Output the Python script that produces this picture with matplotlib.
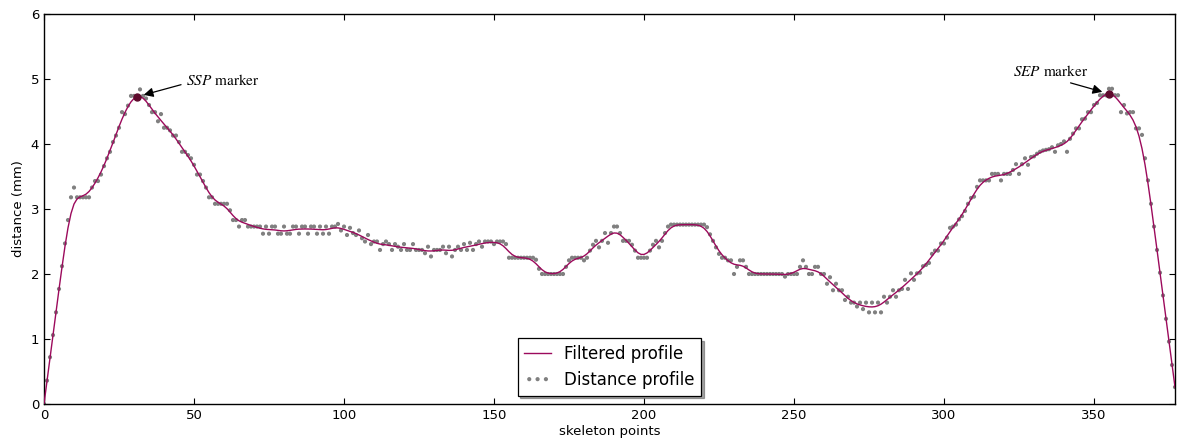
import numpy as np
import matplotlib
matplotlib.use("Agg")
import matplotlib.pyplot as plt

# ---- data ----
distance_profile = [
    0.00, 0.36, 0.72, 1.06, 1.41, 1.77, 2.12, 2.47, 2.83, 3.18,
    3.33, 3.18, 3.18, 3.18, 3.18, 3.18, 3.33, 3.43, 3.43, 3.53,
    3.66, 3.78, 3.88, 4.03, 4.13, 4.25, 4.49, 4.46, 4.59, 4.74,
    4.74, 4.74, 4.84, 4.74, 4.70, 4.60, 4.49, 4.49, 4.35, 4.46,
    4.25, 4.25, 4.21, 4.13, 4.13, 4.03, 3.88, 3.88, 3.83, 3.78,
    3.68, 3.53, 3.53, 3.43, 3.33, 3.18, 3.18, 3.08, 3.08, 3.08,
    3.08, 3.08, 2.98, 2.83, 2.83, 2.73, 2.83, 2.83, 2.73, 2.73,
    2.73, 2.73, 2.73, 2.62, 2.73, 2.62, 2.73, 2.73, 2.62, 2.62,
    2.73, 2.62, 2.62, 2.73, 2.73, 2.62, 2.73, 2.73, 2.62, 2.73,
    2.73, 2.62, 2.73, 2.62, 2.73, 2.62, 2.73, 2.73, 2.77, 2.67,
    2.73, 2.60, 2.71, 2.63, 2.60, 2.67, 2.55, 2.50, 2.60, 2.46,
    2.50, 2.50, 2.37, 2.46, 2.50, 2.46, 2.37, 2.46, 2.42, 2.37,
    2.46, 2.37, 2.37, 2.46, 2.37, 2.37, 2.37, 2.32, 2.42, 2.27,
    2.37, 2.37, 2.37, 2.42, 2.32, 2.42, 2.27, 2.37, 2.42, 2.37,
    2.46, 2.37, 2.48, 2.37, 2.46, 2.50, 2.42, 2.50, 2.50, 2.50,
    2.46, 2.50, 2.50, 2.50, 2.46, 2.25, 2.25, 2.25, 2.25, 2.25,
    2.25, 2.25, 2.25, 2.25, 2.22, 2.08, 2.00, 2.00, 2.00, 2.00,
    2.00, 2.00, 2.00, 2.00, 2.11, 2.21, 2.25, 2.25, 2.25, 2.25,
    2.21, 2.25, 2.36, 2.45, 2.51, 2.41, 2.51, 2.63, 2.48, 2.63,
    2.73, 2.73, 2.63, 2.51, 2.51, 2.51, 2.45, 2.36, 2.25, 2.25,
    2.25, 2.25, 2.36, 2.45, 2.51, 2.41, 2.51, 2.63, 2.73, 2.76,
    2.76, 2.76, 2.76, 2.76, 2.76, 2.76, 2.76, 2.76, 2.76, 2.76,
    2.76, 2.72, 2.61, 2.51, 2.41, 2.31, 2.25, 2.25, 2.21, 2.21,
    2.00, 2.11, 2.21, 2.21, 2.11, 2.00, 2.00, 2.00, 2.00, 2.00,
    2.00, 2.00, 2.00, 2.00, 2.00, 2.00, 2.00, 1.96, 2.00, 2.00,
    2.00, 2.00, 2.11, 2.21, 2.11, 2.00, 2.00, 2.11, 2.11, 2.00,
    2.00, 1.85, 1.95, 1.75, 1.85, 1.75, 1.75, 1.60, 1.65, 1.56,
    1.56, 1.50, 1.56, 1.46, 1.56, 1.41, 1.56, 1.41, 1.56, 1.41,
    1.65, 1.56, 1.65, 1.75, 1.65, 1.75, 1.77, 1.91, 1.77, 2.01,
    1.91, 2.01, 2.02, 2.12, 2.14, 2.17, 2.31, 2.36, 2.36, 2.47,
    2.47, 2.56, 2.71, 2.73, 2.76, 2.84, 2.89, 2.97, 3.08, 3.17,
    3.19, 3.34, 3.44, 3.44, 3.44, 3.44, 3.54, 3.54, 3.54, 3.44,
    3.54, 3.54, 3.54, 3.60, 3.69, 3.54, 3.69, 3.78, 3.68, 3.80,
    3.81, 3.85, 3.88, 3.90, 3.91, 3.92, 3.95, 3.88, 3.98, 4.00,
    4.04, 3.88, 4.08, 4.16, 4.24, 4.24, 4.38, 4.39, 4.49, 4.49,
    4.60, 4.63, 4.75, 4.75, 4.75, 4.85, 4.85, 4.75, 4.75, 4.49,
    4.60, 4.47, 4.49, 4.49, 4.24, 4.24, 4.14, 3.78, 3.44, 3.08,
    2.73, 2.37, 2.02, 1.67, 1.31, 0.96, 0.60, 0.26,
]
ssp_index = 31
sep_index = 355
x_ticks = [0, 50, 100, 150, 200, 250, 300, 350]
y_ticks = [0, 1, 2, 3, 4, 5, 6]


def gaussian_filter_odd(y, sigma):
    """Gaussian smoothing with odd (point) reflection at both ends."""
    y = np.asarray(y, dtype=float)
    r = int(4 * sigma)
    k = np.exp(-0.5 * (np.arange(-r, r + 1) / sigma) ** 2)
    k /= k.sum()
    left = 2 * y[0] - y[1:r + 1][::-1]
    right = 2 * y[-1] - y[-r - 1:-1][::-1]
    padded = np.concatenate([left, y, right])
    return np.convolve(padded, k, mode='valid')


y = np.array(distance_profile)
x = np.arange(len(y))
filtered = gaussian_filter_odd(y, 2.0)

plt.rcParams['mathtext.fontset'] = 'stix'

fig = plt.figure(figsize=(11.77, 4.41), dpi=100)
ax = fig.add_axes([44 / 1177, 1 - 404 / 441, 1131 / 1177, 390 / 441])

line_color = '#9c0a5c'
ax.plot(x, filtered, color=line_color, lw=1.0, label='Filtered profile', zorder=3)
ax.scatter(x, y, s=9, color='#808080', edgecolors='none', label='Distance profile', zorder=2)

ax.plot([ssp_index], [filtered[ssp_index]], 'o', color='#5e0a2c', ms=5, zorder=4)
ax.plot([sep_index], [filtered[sep_index]], 'o', color='#5e0a2c', ms=5, zorder=4)

ax.annotate(r'$SSP$ marker', xy=(ssp_index, filtered[ssp_index]),
            xytext=(47.5, 4.97), ha='left', va='center',
            fontsize=11, family='STIXGeneral',
            arrowprops=dict(arrowstyle='-|>', color='black', lw=0.9,
                            mutation_scale=14, shrinkA=2, shrinkB=5,
                            relpos=(0.0, 0.35)))
ax.annotate(r'$SEP$ marker', xy=(sep_index, filtered[sep_index]),
            xytext=(335.5, 5.11), ha='center', va='center',
            fontsize=11, family='STIXGeneral',
            arrowprops=dict(arrowstyle='-|>', color='black', lw=0.9,
                            mutation_scale=14, shrinkA=2, shrinkB=5,
                            relpos=(0.6, 0.0)))

ax.set_xlim(0, len(y) - 1)
ax.set_ylim(0, 6)
ax.set_xticks(x_ticks)
ax.set_yticks(y_ticks)
ax.tick_params(direction='in', top=True, right=True, length=4, labelsize=9.5)
ax.set_xlabel('skeleton points', fontsize=9.5, labelpad=2)
ax.set_ylabel('distance (mm)', fontsize=9.5, labelpad=4)
for s in ax.spines.values():
    s.set_linewidth(1.0)

leg = ax.legend(loc='lower center', shadow=True, fancybox=False, framealpha=1,
                edgecolor='black', fontsize=12, scatterpoints=3,
                scatteryoffsets=[0.5], handlelength=1.6, borderaxespad=0.5)
leg.get_frame().set_linewidth(0.9)

fig.savefig('out.png', dpi=100)
